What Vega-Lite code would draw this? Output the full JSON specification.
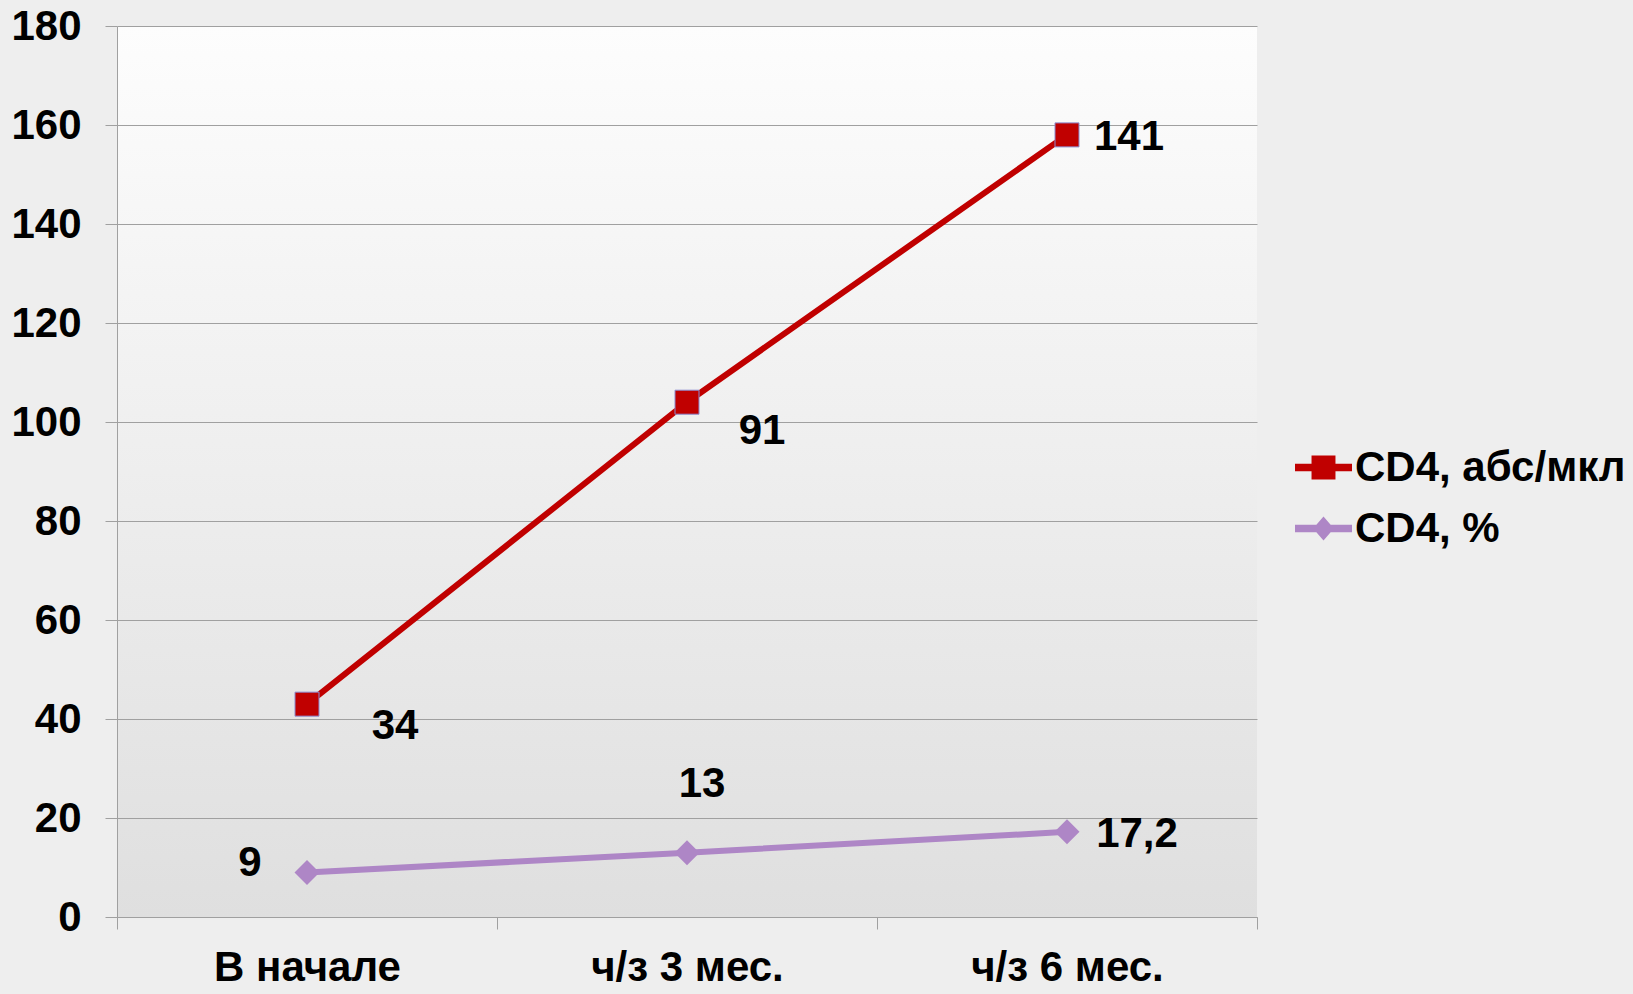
{
  "$schema": "https://vega.github.io/schema/vega-lite/v6.json",
  "width": 1140,
  "height": 891,
  "autosize": {"type": "none"},
  "padding": {"left": 117, "top": 26, "right": 376, "bottom": 77},
  "background": "#eeeeee",
  "config": {
    "font": "Liberation Sans",
    "view": {
      "stroke": null,
      "fill": {"gradient": "linear", "x1": 0, "y1": 0, "x2": 0, "y2": 1,
        "stops": [{"offset": 0, "color": "#fdfdfd"}, {"offset": 1, "color": "#dfdfdf"}]}
    },
    "legend": {
      "labelFont": "Liberation Sans",
      "labelFontWeight": "bold",
      "labelFontSize": 42,
      "labelColor": "#000000",
      "labelLimit": 600,
      "symbolSize": 3249,
      "symbolStrokeWidth": 0,
      "symbolOpacity": 1,
      "rowPadding": 11,
      "labelOffset": 3,
      "padding": 0
    }
  },
  "data": {
    "values": [
      {"period": "В начале", "series": "CD4, абс/мкл", "value": 43, "label": "34"},
      {"period": "ч/з 3 мес.", "series": "CD4, абс/мкл", "value": 104, "label": "91"},
      {"period": "ч/з 6 мес.", "series": "CD4, абс/мкл", "value": 158, "label": "141"},
      {"period": "В начале", "series": "CD4, %", "value": 9, "label": "9"},
      {"period": "ч/з 3 мес.", "series": "CD4, %", "value": 13, "label": "13"},
      {"period": "ч/з 6 мес.", "series": "CD4, %", "value": 17.2, "label": "17,2"}
    ]
  },
  "encoding": {
    "x": {
      "field": "period", "type": "nominal",
      "sort": ["В начале", "ч/з 3 мес.", "ч/з 6 мес."],
      "scale": {"type": "band", "paddingInner": 0, "paddingOuter": 0},
      "bandPosition": 0.5,
      "axis": {
        "title": null, "labelAngle": 0, "labelFontSize": 42, "labelFontWeight": "bold",
        "labelColor": "#000000", "labelPadding": 18, "labelLimit": 600, "tickBand": "extent", "tickSize": 12,
        "tickColor": "#a0a0a0", "domainColor": "#a0a0a0", "grid": false
      }
    },
    "y": {
      "field": "value", "type": "quantitative",
      "scale": {"domain": [0, 180], "nice": false},
      "axis": {
        "title": null, "values": [0, 20, 40, 60, 80, 100, 120, 140, 160, 180],
        "labelFontSize": 42, "labelFontWeight": "bold", "labelColor": "#000000",
        "labelPadding": 24, "tickSize": 12, "tickColor": "#a0a0a0", "domainColor": "#a0a0a0",
        "grid": true, "gridColor": "#a0a0a0", "gridOpacity": 1
      }
    }
  },
  "layer": [
    {
      "transform": [{"filter": "datum.series === 'CD4, абс/мкл'"}],
      "mark": {"type": "line", "strokeWidth": 6, "color": "#C00000"},
      "encoding": {}
    },
    {
      "transform": [{"filter": "datum.series === 'CD4, %'"}],
      "mark": {"type": "line", "strokeWidth": 6, "color": "#AE86C6"},
      "encoding": {}
    },
    {
      "transform": [{"filter": "datum.series === 'CD4, абс/мкл'"}],
      "mark": {"type": "point", "shape": "square", "filled": true, "size": 576, "opacity": 1,
        "fill": "#C00000", "stroke": "#8c8cd0", "strokeWidth": 1}
    },
    {
      "transform": [{"filter": "datum.series === 'CD4, %'"}],
      "mark": {"type": "point", "shape": "diamond", "filled": true, "size": 625, "opacity": 1,
        "fill": "#AE86C6", "strokeWidth": 0}
    },
    {
      "transform": [{"filter": "datum.label === '34'"}],
      "mark": {"type": "text", "dx": 88, "dy": 22, "align": "center", "baseline": "middle",
        "fontSize": 42, "fontWeight": "bold", "color": "#000000"},
      "encoding": {"text": {"field": "label"}}
    },
    {
      "transform": [{"filter": "datum.label === '91'"}],
      "mark": {"type": "text", "dx": 75, "dy": 29, "align": "center", "baseline": "middle",
        "fontSize": 42, "fontWeight": "bold", "color": "#000000"},
      "encoding": {"text": {"field": "label"}}
    },
    {
      "transform": [{"filter": "datum.label === '141'"}],
      "mark": {"type": "text", "dx": 62, "dy": 2, "align": "center", "baseline": "middle",
        "fontSize": 42, "fontWeight": "bold", "color": "#000000"},
      "encoding": {"text": {"field": "label"}}
    },
    {
      "transform": [{"filter": "datum.label === '9'"}],
      "mark": {"type": "text", "dx": -57, "dy": -9, "align": "center", "baseline": "middle",
        "fontSize": 42, "fontWeight": "bold", "color": "#000000"},
      "encoding": {"text": {"field": "label"}}
    },
    {
      "transform": [{"filter": "datum.label === '13'"}],
      "mark": {"type": "text", "dx": 15, "dy": -69, "align": "center", "baseline": "middle",
        "fontSize": 42, "fontWeight": "bold", "color": "#000000"},
      "encoding": {"text": {"field": "label"}}
    },
    {
      "transform": [{"filter": "datum.label === '17,2'"}],
      "mark": {"type": "text", "dx": 70, "dy": 2, "align": "center", "baseline": "middle",
        "fontSize": 42, "fontWeight": "bold", "color": "#000000"},
      "encoding": {"text": {"field": "label"}}
    },
    {
      "transform": [{"filter": "false"}],
      "mark": {"type": "point", "filled": true, "opacity": 1, "strokeWidth": 0},
      "encoding": {
        "color": {"field": "series", "type": "nominal",
          "scale": {"domain": ["CD4, абс/мкл", "CD4, %"], "range": ["#C00000", "#AE86C6"]},
          "legend": {"orient": "none", "legendX": 1178, "legendY": 413, "title": null}},
        "shape": {"field": "series", "type": "nominal",
          "scale": {"domain": ["CD4, абс/мкл", "CD4, %"],
            "range": ["M-1,-0.13H-0.42V-0.42H0.42V-0.13H1V0.13H0.42V0.42H-0.42V0.13H-1Z",
                      "M-1,-0.13H-0.25L0,-0.42L0.25,-0.13H1V0.13H0.25L0,0.42L-0.25,0.13H-1Z"]},
          "legend": {"orient": "none", "legendX": 1178, "legendY": 413, "title": null}}
      }
    }
  ]
}
